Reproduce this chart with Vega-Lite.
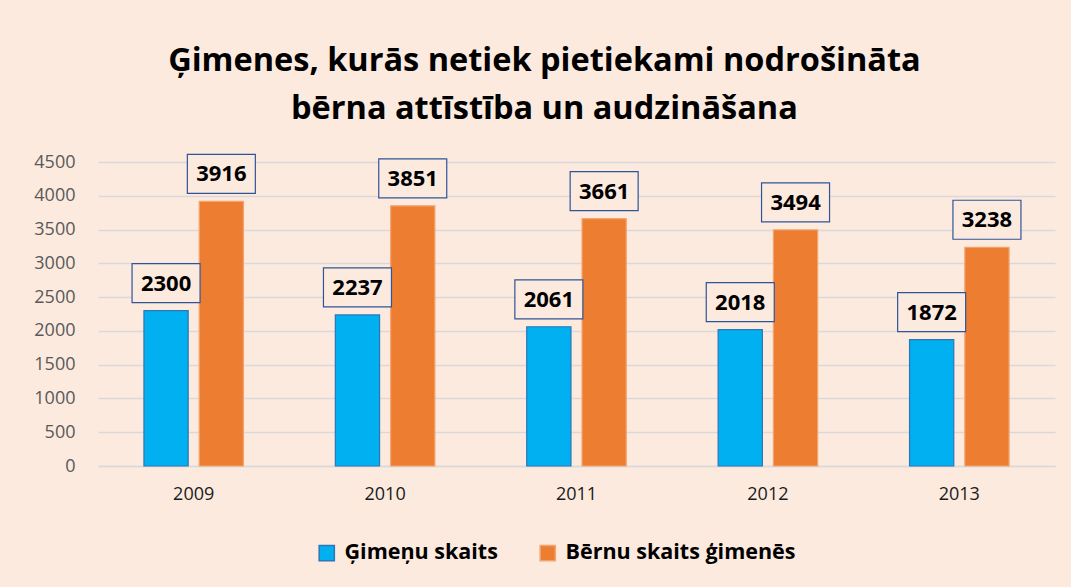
{
  "$schema": "https://vega.github.io/schema/vega-lite/v6.json",
  "background": "#FCEADF",
  "width": 957,
  "height": 304,
  "padding": {"left": 33, "top": 44, "right": 16, "bottom": 23},
  "title": {
    "text": ["Ģimenes, kurās netiek pietiekami nodrošināta", "bērna attīstība un audzināšana"],
    "font": "Open Sans",
    "fontSize": 32.5,
    "fontWeight": "bold",
    "color": "#000000",
    "lineHeight": 48,
    "anchor": "middle",
    "frame": "bounds",
    "offset": 27
  },
  "data": {
    "values": [
      {"year": "2009", "series": "Ģimeņu skaits", "value": 2300},
      {"year": "2009", "series": "Bērnu skaits ģimenēs", "value": 3916},
      {"year": "2010", "series": "Ģimeņu skaits", "value": 2237},
      {"year": "2010", "series": "Bērnu skaits ģimenēs", "value": 3851},
      {"year": "2011", "series": "Ģimeņu skaits", "value": 2061},
      {"year": "2011", "series": "Bērnu skaits ģimenēs", "value": 3661},
      {"year": "2012", "series": "Ģimeņu skaits", "value": 2018},
      {"year": "2012", "series": "Bērnu skaits ģimenēs", "value": 3494},
      {"year": "2013", "series": "Ģimeņu skaits", "value": 1872},
      {"year": "2013", "series": "Bērnu skaits ģimenēs", "value": 3238}
    ]
  },
  "encoding": {
    "x": {
      "field": "year", "type": "nominal",
      "scale": {"paddingInner": 0.48, "paddingOuter": 0.24},
      "axis": {"title": null, "labelAngle": 0, "labelFont": "Open Sans", "labelFontSize": 18, "labelColor": "#1A1A1A", "labelPadding": 19, "ticks": false, "domainColor": "#D9D9D9", "domainWidth": 1.5, "grid": false}
    },
    "xOffset": {
      "field": "series", "type": "nominal",
      "sort": ["Ģimeņu skaits", "Bērnu skaits ģimenēs"],
      "scale": {"paddingInner": 0.2, "paddingOuter": 0}
    },
    "y": {
      "field": "value", "type": "quantitative",
      "scale": {"domain": [0, 4500], "nice": false},
      "axis": {"title": null, "format": "d", "values": [0, 500, 1000, 1500, 2000, 2500, 3000, 3500, 4000, 4500], "labelFont": "Open Sans", "labelFontSize": 18, "labelColor": "#595959", "labelPadding": 23, "ticks": false, "domain": false, "gridColor": "#D9D9D9", "gridWidth": 1.5}
    }
  },
  "layer": [
    {
      "mark": {"type": "bar", "strokeWidth": 1.2},
      "encoding": {
        "color": {
          "field": "series", "type": "nominal",
          "sort": ["Ģimeņu skaits", "Bērnu skaits ģimenēs"],
          "scale": {"domain": ["Ģimeņu skaits", "Bērnu skaits ģimenēs"], "range": ["#00B0F0", "#ED7D31"]},
          "legend": {"title": null, "orient": "none", "legendX": 218, "legendY": 380, "direction": "horizontal", "symbolType": "square", "symbolSize": 230, "labelFont": "Open Sans", "labelFontSize": 21.5, "labelFontWeight": "bold", "labelColor": "#000000", "labelLimit": 0, "columnPadding": 39, "labelOffset": 7}
        },
        "stroke": {
          "field": "series", "type": "nominal",
          "scale": {"domain": ["Ģimeņu skaits", "Bērnu skaits ģimenēs"], "range": ["#2E75B6", "#F4A470"]},
          "legend": null
        }
      }
    },
    {
      "mark": {"type": "point", "shape": "M-1,-1.382L1,-1.382L1,-0.235L-1,-0.235Z", "size": 4624, "filled": false, "fill": "#FCEADF", "stroke": "#2F5597", "strokeWidth": 1.2, "opacity": 1, "fillOpacity": 1}
    },
    {
      "mark": {"type": "text", "dy": -27, "font": "Open Sans", "fontSize": 22, "fontWeight": "bold", "color": "#000000", "baseline": "middle"},
      "encoding": {"text": {"field": "value", "type": "quantitative", "format": "d"}}
    }
  ],
  "config": {
    "view": {"stroke": null}
  }
}
